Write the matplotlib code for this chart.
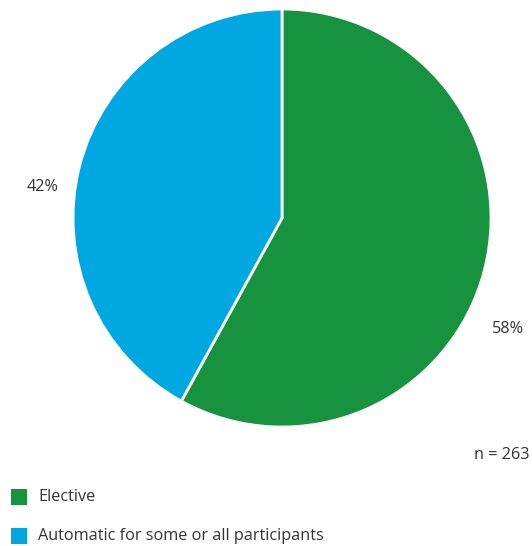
import matplotlib
matplotlib.use("Agg")
import matplotlib.pyplot as plt
from matplotlib.patches import Rectangle

categories = ["Elective", "Automatic for some or all participants"]
values = [58, 42]
colors = ["#17923E", "#00A8E2"]
labels = ["58%", "42%"]
note = "n = 263"

W, H = 532, 546
fig = plt.figure(figsize=(W/100, H/100), dpi=100)
plt.rcParams['font.family'] = ['Open Sans', 'DejaVu Sans']

cx, cy, r = 282, 218, 209
ax = fig.add_axes([(cx - r)/W, (H - cy - r)/H, 2*r/W, 2*r/H])
ax.pie(values, colors=colors, startangle=90, counterclock=False,
       wedgeprops=dict(edgecolor="white", linewidth=2))
ax.set_aspect("equal")
ax.set_xlim(-1, 1); ax.set_ylim(-1, 1)
ax.axis("off")

txtc = "#333333"
fs = 11.7
def px(x, y):
    return x / W, 1 - y / H

fig.text(*px(508, 329), labels[0], ha="center", va="center", fontsize=fs, color=txtc)
fig.text(*px(43, 187), labels[1], ha="center", va="center", fontsize=fs, color=txtc)
fig.text(*px(530, 455), note, ha="right", va="center", fontsize=fs, color=txtc)

leg_y = [497, 536]
for c, lab, y in zip(colors, categories, leg_y):
    x0, y0 = px(11, y + 8)
    fig.patches.append(Rectangle((x0, y0), 16/W, 16/H, transform=fig.transFigure,
                                 facecolor=c, edgecolor="none"))
    fig.text(*px(38, y), lab, ha="left", va="center", fontsize=fs, color=txtc)

fig.savefig("out.png", dpi=100)
